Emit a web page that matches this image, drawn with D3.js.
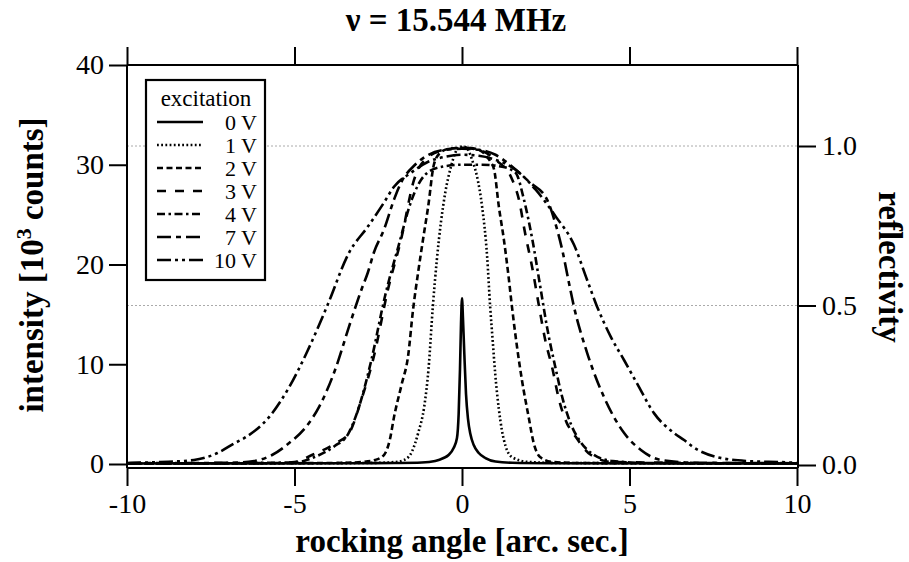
<!DOCTYPE html>
<html>
<head>
<meta charset="utf-8">
<script src="https://cdn.jsdelivr.net/npm/d3@7"></script>
<style>
	body { margin:0; background:#fff; }
	svg { display:block; font-family:"Liberation Serif","Times New Roman",serif; }
</style>
</head>
<body>
<div id="chart"></div>
<script>
// rocking curves, intensity in 10^3 counts vs angle in arc sec
var labels = ["0 V","1 V","2 V","3 V","4 V","7 V","10 V"];

var s0V = [[-10,0.05],[-3,0.08],[-2,0.1],[-1.2,0.15],[-0.8,0.3],[-0.55,0.6],[-0.4,0.9],[-0.25,1.6],[-0.15,2.6],[-0.1,5],[-0.06,9.5],[-0.03,14],[0,16.6],[0.03,14.5],[0.07,11],[0.12,7],[0.18,4.5],[0.25,3],[0.35,1.9],[0.5,1.1],[0.7,0.6],[1,0.25],[1.5,0.12],[2.5,0.08],[10,0.05]];
var s1V = [[-10,0.05],[-4,0.08],[-2.5,0.12],[-2,0.2],[-1.73,0.4],[-1.5,1.2],[-1.3,3.2],[-1.13,5.7],[-1,9.5],[-0.87,15.8],[-0.75,20.5],[-0.63,24.2],[-0.5,27.2],[-0.33,29.8],[-0.2,31.2],[-0.1,31.8],[0.05,31.8],[0.18,31.5],[0.3,30.5],[0.45,28.8],[0.6,25.8],[0.75,20.8],[0.84,15.8],[0.92,12.2],[0.99,9.1],[1.1,5.5],[1.19,3.4],[1.3,1.8],[1.49,0.7],[2,0.2],[3,0.1],[10,0.05]];
var s2V = [[-10,0.05],[-5,0.08],[-3.5,0.12],[-3,0.2],[-2.6,0.4],[-2.33,0.9],[-2.15,2.5],[-2.03,4.7],[-1.8,8],[-1.61,10.8],[-1.46,15.5],[-1.31,19.2],[-1.15,22.8],[-1.01,25.8],[-0.84,30],[-0.65,31.2],[-0.4,31.6],[0,31.7],[0.4,31.6],[0.7,31],[0.85,30.3],[0.96,29.5],[1.1,25.8],[1.25,22.5],[1.4,18.5],[1.49,15.8],[1.64,11.8],[1.79,8.4],[1.99,4.7],[2.14,2.1],[2.33,0.7],[2.7,0.2],[3.5,0.1],[10,0.05]];
var s3V = [[-10,0.05],[-5.5,0.1],[-5,0.2],[-4.48,0.9],[-3.76,2.1],[-3.37,3.1],[-3,6.5],[-2.63,10.8],[-2.21,17.5],[-1.82,22.5],[-1.43,28.5],[-1,30.8],[-0.5,31.5],[0,31.7],[0.5,31.5],[1,30.5],[1.5,28.5],[1.7,26.5],[1.88,23.2],[2.09,19.8],[2.3,15.8],[2.48,12.5],[2.69,9.7],[2.9,6.4],[3.13,4.1],[3.34,3],[3.85,0.9],[4.5,0.2],[10,0.05]];
var s4V = [[-10,0.05],[-5,0.15],[-4.4,0.7],[-3.8,1.8],[-3.4,3],[-3.05,6],[-2.7,10.5],[-2.3,16.8],[-1.9,21.8],[-1.5,26.5],[-1.1,29],[-0.6,29.8],[0,30],[0.6,30],[1.2,29.8],[1.6,29.2],[1.85,26.5],[2.1,22.5],[2.35,17.5],[2.55,13.5],[2.78,9.8],[3,6.6],[3.25,4],[3.5,2.4],[3.9,1],[4.5,0.3],[5.5,0.1],[10,0.05]];
var s7V = [[-10,0.08],[-7,0.12],[-6.2,0.3],[-5.67,0.9],[-5.16,2.1],[-4.66,3.7],[-4.27,5.7],[-3.76,9.7],[-3.37,13.8],[-3,17.5],[-2.81,19.2],[-2.63,21.2],[-2.33,23.5],[-2.03,26.5],[-1.82,28.2],[-1.4,30],[-1,31],[-0.5,31.5],[0,31.6],[0.5,31.5],[1,31],[1.5,29.8],[2,28.3],[2.54,26.5],[2.78,24.2],[2.99,21.5],[3.19,18.2],[3.34,15.8],[3.73,11.2],[4.24,6.7],[4.84,3.1],[5.34,1.4],[5.94,0.4],[7,0.12],[10,0.08]];
var s10V = [[-10,0.1],[-9,0.2],[-8,0.4],[-7.3,1.1],[-6.78,2.1],[-6.45,2.7],[-5.76,4.7],[-5.16,7.7],[-4.63,11.2],[-4.03,15.8],[-3.37,21.2],[-2.81,23.8],[-2.33,26.2],[-2.03,27.8],[-1.52,29.2],[-1.01,30.3],[-0.5,30.8],[0,31],[0.5,30.9],[1,30.5],[1.6,29.5],[2.2,27.5],[2.8,24.8],[3.34,22],[3.73,18.5],[4.03,15.8],[4.45,12.7],[4.84,10.4],[5.22,8.1],[5.73,5.1],[6.33,3.1],[6.63,2.4],[6.9,1.7],[7.6,0.7],[8.5,0.3],[9.8,0.15],[10,0.1]];

var series = [s0V, s1V, s2V, s3V, s4V, s7V, s10V];
var dashes = ["none","1.8,2.4","6,3.5","9,9","8,3.5,2.5,3.5","14,5,5,5","14,4,3,4,3,4"];

var xTicks = [-10,-5,0,5,10];
var yTicks = [0,10,20,30,40];
var rTicks = [0.0,0.5,1.0];

var width = 909, height = 562;
var pLeft = 127, pRight = 797, pTop = 65, pBottom = 464, axisBottom = 468;

var x = d3.scaleLinear().domain([-10,10]).range([pLeft,pRight]);
var y = d3.scaleLinear().domain([0,40]).range([pBottom,pTop]);
// reflectivity 1.0 sits at 31.9 k counts
var r = d3.scaleLinear().domain([0,40/31.9]).range([pBottom+1,pTop]);

var svg = d3.select("#chart").append("svg")
	.attr("width", width)
	.attr("height", height);

// dotted guides at reflectivity 0.5 and 1.0
svg.append("g").selectAll("line")
	.data([0.5,1.0])
	.enter().append("line")
	.attr("x1", pLeft).attr("x2", pRight)
	.attr("y1", function(d){ return r(d); })
	.attr("y2", function(d){ return r(d); })
	.style("stroke","#aaa")
	.style("stroke-width",1)
	.style("stroke-dasharray","2,2");

var line = d3.line()
	.x(function(d){ return x(d[0]); })
	.y(function(d){ return y(d[1]); })
	.curve(d3.curveMonotoneX);

svg.append("g").selectAll("path")
	.data(series)
	.enter().append("path")
	.attr("d", line)
	.style("fill","none")
	.style("stroke","#000")
	.style("stroke-width",2.6)
	.style("stroke-dasharray", function(d,i){ return dashes[i]; });

// axes, plain hyphen for negatives like the original
var tickLen = 18;
var plain = function(d){ return String(d); };
var axes = svg.append("g");

var gl = axes.append("g").attr("transform","translate(" + pLeft + ",0)")
	.call(d3.axisLeft(y).tickValues(yTicks).tickSize(tickLen).tickPadding(5).tickFormat(plain));
gl.select(".domain").attr("d","M0," + pTop + "V" + axisBottom);

var gr = axes.append("g").attr("transform","translate(" + (pRight+1) + ",0)")
	.call(d3.axisRight(r).tickValues(rTicks).tickSize(tickLen).tickPadding(6).tickFormat(d3.format(".1f")));
gr.select(".domain").attr("d","M0," + pTop + "V" + axisBottom);

var gb = axes.append("g").attr("transform","translate(0," + axisBottom + ")")
	.call(d3.axisBottom(x).tickValues(xTicks).tickSize(tickLen).tickPadding(7).tickFormat(plain));
gb.select(".domain").attr("d","M" + pLeft + ",0H" + (pRight+1));

var gt = axes.append("g").attr("transform","translate(0," + pTop + ")")
	.call(d3.axisTop(x).tickValues(xTicks).tickSize(tickLen).tickFormat(""));
gt.select(".domain").attr("d","M" + pLeft + ",0H" + (pRight+1));

axes.selectAll(".domain, .tick line").style("stroke","#000").style("stroke-width",2);
axes.selectAll(".tick text").style("font-family","Liberation Serif").style("font-size","28px").attr("fill","#000");

// titles
svg.append("text")
	.attr("x", 456).attr("y", 31)
	.attr("text-anchor","middle")
	.style("font-size","33px").style("font-weight","bold")
	.text("\u03bd = 15.544 MHz");

svg.append("text")
	.attr("x", 462).attr("y", 552)
	.attr("text-anchor","middle")
	.style("font-size","33px").style("font-weight","bold")
	.text("rocking angle [arc. sec.]");

var yl = svg.append("text")
	.attr("transform","translate(43,265) rotate(-90)")
	.attr("text-anchor","middle")
	.style("font-size","33px").style("font-weight","bold");
yl.append("tspan").text("intensity [10");
yl.append("tspan").attr("dy",-12).style("font-size","22px").text("3");
yl.append("tspan").attr("dy",12).text(" counts]");

svg.append("text")
	.attr("transform","translate(879,267) rotate(90)")
	.attr("text-anchor","middle")
	.style("font-size","33px").style("font-weight","bold")
	.text("reflectivity");

// legend
var lg = svg.append("g").style("font-size","22px");
lg.append("rect")
	.attr("x",146).attr("y",80).attr("width",119).attr("height",200)
	.style("fill","#fff").style("stroke","#000").style("stroke-width",2.2);
lg.append("text").attr("x",206).attr("y",106).style("font-size","23px").attr("text-anchor","middle").text("excitation");

var rows = lg.selectAll(".row").data(labels).enter().append("g")
	.attr("class","row")
	.attr("transform", function(d,i){ return "translate(0," + (122 + i*23) + ")"; });
rows.append("line")
	.attr("x1",157).attr("x2",203).attr("y1",0).attr("y2",0)
	.style("stroke","#000").style("stroke-width",2.6)
	.style("stroke-dasharray", function(d,i){ return dashes[i]; });
rows.append("text")
	.attr("x",257).attr("y",8)
	.attr("text-anchor","end")
	.text(function(d){ return d; });
</script>
</body>
</html>
